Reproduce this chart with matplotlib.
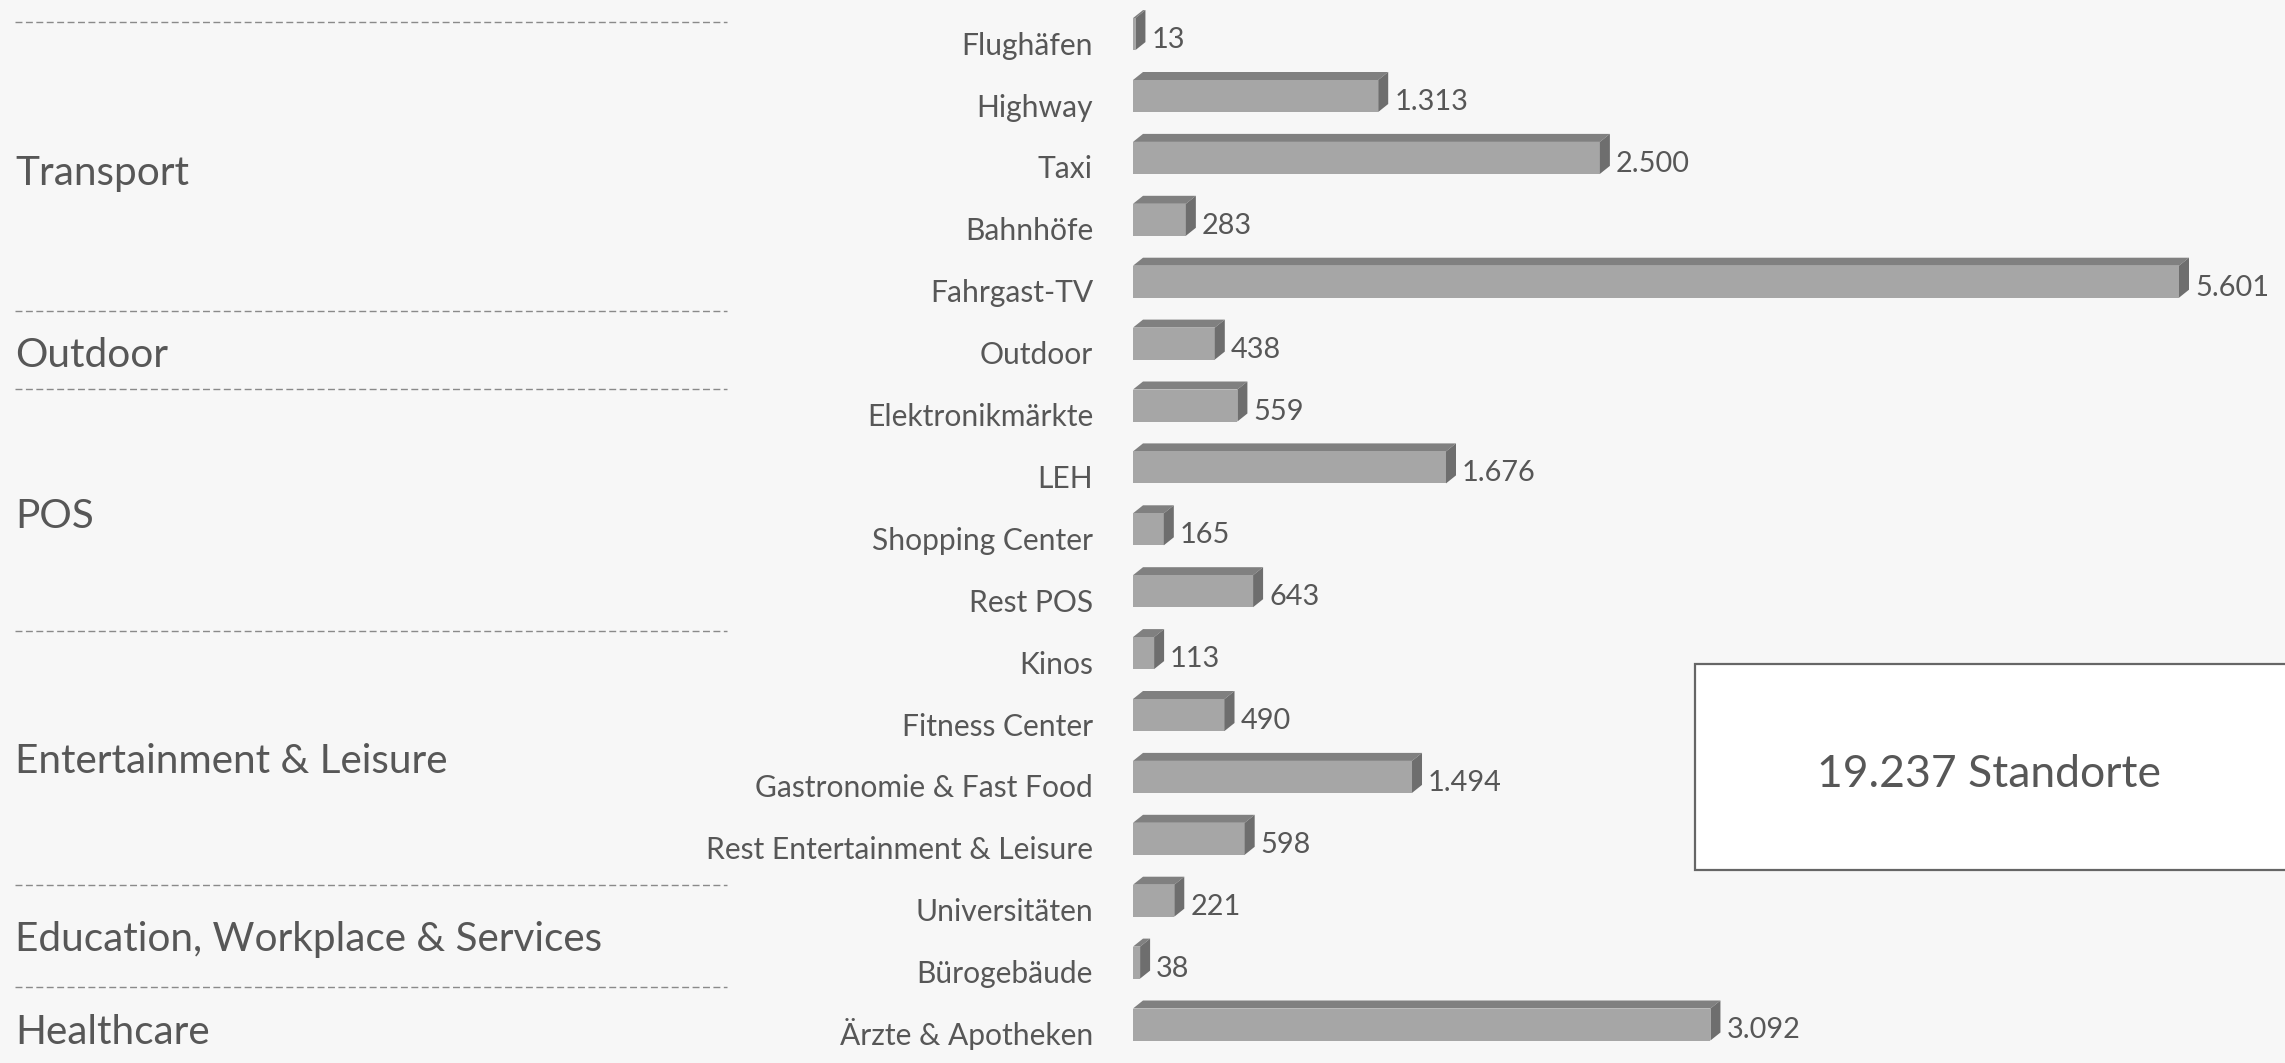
import matplotlib
matplotlib.use("Agg")
import matplotlib.pyplot as plt
from matplotlib.patches import Polygon, Rectangle
from matplotlib.lines import Line2D
from matplotlib.transforms import offset_copy

# ---------------- data ----------------
categories = ["Flughäfen", "Highway", "Taxi", "Bahnhöfe", "Fahrgast-TV",
              "Outdoor",
              "Elektronikmärkte", "LEH", "Shopping Center", "Rest POS",
              "Kinos", "Fitness Center", "Gastronomie & Fast Food",
              "Rest Entertainment & Leisure",
              "Universitäten", "Bürogebäude",
              "Ärzte & Apotheken"]
values = [13, 1313, 2500, 283, 5601,
          438,
          559, 1676, 165, 643,
          113, 490, 1494, 598,
          221, 38,
          3092]
groups = ["Transport", "Outdoor", "POS", "Entertainment & Leisure",
          "Education, Workplace & Services", "Healthcare"]
total_label = "19.237 Standorte"

# ---------------- layout (pixels) ----------------
W, H = 2285, 1063
DPI = 100
BG = "#f7f7f7"
TXT = "#575757"
FRONT = "#a6a6a6"
TOP = "#808080"
SIDE = "#6e6e6e"
DX, DY = 10, 8          # 3D depth in pixels

group_label_y = [170, 352, 513, 758, 936, 1029]     # cap centres (px from top)
sep_lines_y = [22, 310.5, 388.5, 631, 885, 987]    # dashed separators

plt.rcParams['font.family'] = ['Lato', 'DejaVu Sans']
plt.rcParams['lines.scale_dashes'] = False

fig = plt.figure(figsize=(W / DPI, H / DPI), dpi=DPI, facecolor=BG)

def fx(px):
    return px / W

def fy(py):
    return 1 - py / H

row0, step = 34.1, 61.9
top_px = row0 - step / 2
bot_px = row0 + step * (len(categories) - 0.5)
ax_left = 1133
ax = fig.add_axes([fx(ax_left), fy(bot_px), (W - ax_left) / W, (bot_px - top_px) / H])
ax.set_facecolor("none")
px_per_unit = 1046 / 5601
ax.set_xlim(0, (W - ax_left) / px_per_unit)
ax.set_ylim(len(categories) - 0.5, -0.5)
ax.axis("off")

rows = list(range(len(categories)))
bh = 32 / step
ax.barh(rows, values, height=bh, color=FRONT, linewidth=0, zorder=3)

inv = ax.transData.inverted()
for r, v in zip(rows, values):
    tl, tr, br = ax.transData.transform([(0, r - bh / 2), (v, r - bh / 2), (v, r + bh / 2)])
    top = [tl, tr, tr + (DX, DY), tl + (DX, DY)]
    side = [tr, tr + (DX, DY), br + (DX, DY), br]
    ax.add_patch(Polygon(inv.transform(top), closed=True, fc=TOP, lw=0, zorder=2, clip_on=False))
    ax.add_patch(Polygon(inv.transform(side), closed=True, fc=SIDE, lw=0, zorder=4, clip_on=False))

lab_tr = offset_copy(ax.transData, fig=fig, x=-40, y=-20.5, units='dots')
val_tr = offset_copy(ax.transData, fig=fig, x=16, y=-14, units='dots')
for r, v, c in zip(rows, values, categories):
    ax.text(0, r, c, ha='right', va='baseline', fontsize=21.6, color=TXT,
            transform=lab_tr, clip_on=False)
    ax.text(v, r, f"{v:,}".replace(",", "."), ha='left', va='baseline',
            fontsize=20.8, color=TXT, transform=val_tr, clip_on=False)

# group labels
for g, y in zip(groups, group_label_y):
    fig.text(fx(15), fy(y + 15), g, ha='left', va='baseline', fontsize=29.2, color=TXT)

# dashed separators
for y in sep_lines_y:
    fig.add_artist(Line2D([fx(15), fx(727)], [fy(y), fy(y)], color="#8a8a8a",
                          lw=1.0, linestyle=(0, (5, 2.5))))

# total box
fig.add_artist(Rectangle((fx(1695), fy(870)), fx(2400) - fx(1695), fy(664) - fy(870),
                         transform=fig.transFigure, fc="white", ec="#666666", lw=1.6))
fig.text(fx(1989), fy(787), total_label, ha='center', va='baseline', fontsize=32, color=TXT)

fig.savefig("out.png", dpi=DPI, facecolor=BG)
